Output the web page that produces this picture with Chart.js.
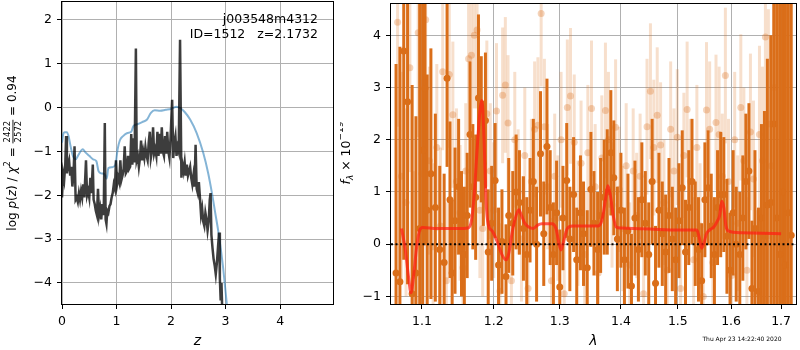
<!DOCTYPE html>
<html>
<head>
<meta charset="utf-8">
<script src="https://cdn.jsdelivr.net/npm/chart.js@4"></script>
<style>
    html, body { margin: 0; padding: 0; background: #fff; }
    #pz { position: absolute; left: 0; top: 0; }
    #spec { position: absolute; left: 340px; top: 0; }
</style>
</head>
<body>
<canvas id="pz" width="340" height="350"></canvas>
<canvas id="spec" width="460" height="350"></canvas>
<script>
(function () {
    'use strict';

    // --- left panel: log p(z) ---
    const Z_TICKS = [0, 1, 2, 3, 4];
    const LOGP_TICKS = [-4, -3, -2, -1, 0, 1, 2];

    const Z_PZ = [
        0.00, 0.02, 0.04, 0.06, 0.075, 0.09, 0.11, 0.13, 0.15, 0.17,
        0.19, 0.21, 0.23, 0.25, 0.27, 0.29, 0.31, 0.33, 0.35, 0.37,
        0.39, 0.41, 0.44, 0.46, 0.48, 0.50, 0.52, 0.54, 0.565, 0.58,
        0.60, 0.62, 0.64, 0.66, 0.68, 0.70, 0.72, 0.74, 0.765, 0.785,
        0.80, 0.815, 0.83, 0.85, 0.87, 0.89, 0.91, 0.93, 0.95, 0.97,
        0.99, 1.01, 1.03, 1.05, 1.07, 1.09, 1.11, 1.13, 1.15, 1.17,
        1.19, 1.21, 1.23, 1.25, 1.27, 1.29, 1.31, 1.33, 1.355, 1.37,
        1.39, 1.41, 1.43, 1.45, 1.47, 1.49, 1.51, 1.53, 1.55, 1.57,
        1.59, 1.61, 1.63, 1.65, 1.67, 1.69, 1.71, 1.73, 1.75, 1.77,
        1.79, 1.81, 1.83, 1.85, 1.87, 1.89, 1.91, 1.93, 1.95, 1.97,
        1.99, 2.02, 2.04, 2.06, 2.08, 2.10, 2.12, 2.14, 2.165, 2.19,
        2.21, 2.23, 2.25, 2.27, 2.29, 2.31, 2.33, 2.35, 2.37, 2.39,
        2.41, 2.43, 2.45, 2.47, 2.49, 2.51, 2.53, 2.55, 2.57, 2.59,
        2.61, 2.63, 2.65, 2.67, 2.69, 2.71, 2.725, 2.74, 2.76, 2.78,
        2.80, 2.82, 2.84, 2.86, 2.88, 2.895, 2.91, 2.925, 2.94
    ];
    const LOGP_PZ = [
        -2.05, -1.50, -1.65, -1.30, -0.65, -1.50, -1.30, -1.20, -1.55, -1.35,
        -1.80, -1.55, -0.88, -2.10, -2.05, -2.15, -1.95, -2.10, -1.90, -2.05,
        -1.75, -2.05, -1.20, -2.00, -1.90, -2.05, -1.60, -1.95, -1.30, -2.10,
        -2.20, -2.35, -2.45, -1.85, -2.45, -2.30, -2.55, -2.20, -2.45, -0.35,
        -2.55, -2.65, -2.35, -2.40, -2.25, -2.20, -2.05, -1.95, -1.75, -1.85,
        -1.20, -1.75, -1.60, -1.70, -1.20, -1.65, -1.55, -1.40, -0.88, -1.50,
        -1.45, -1.10, -1.40, -1.35, -0.60, -1.30, -0.70, -1.25, 1.35, -1.20,
        -1.10, -1.35, -1.15, -0.75, -1.20, -1.00, -1.15, -0.90, -1.10, -1.20,
        -0.80, -0.55, -1.15, -1.00, -0.45, -1.05, -0.95, -1.10, -0.55, -1.10,
        -0.60, -1.05, -0.45, -1.00, -1.10, -0.65, -1.05, -0.55, -1.00, -1.15,
        -0.70, 0.18, -1.15, -0.80, -0.65, -1.10, -0.90, -1.00, 1.55, -1.60,
        -1.30, -1.45, -1.25, -1.55, -1.30, -1.55, -1.45, -1.35, -1.60, -1.75,
        -1.55, -1.80, -0.85, -1.85, -1.95, -1.70, -2.05, -2.45, -2.30, -2.60,
        -2.70, -2.40, -2.55, -2.80, -2.60, -2.10, -1.95, -2.90, -3.20, -3.45,
        -3.60, -3.80, -3.55, -3.20, -2.85, -3.90, -4.40, -4.00, -4.70
    ];

    const Z_MODEL = [
        0.00, 0.02, 0.05, 0.09, 0.12, 0.16, 0.20, 0.25, 0.30, 0.35,
        0.38, 0.43, 0.50, 0.57, 0.63, 0.67, 0.72, 0.78, 0.82, 0.85,
        0.92, 0.98, 1.02, 1.06, 1.12, 1.20, 1.27, 1.31, 1.38, 1.47,
        1.56, 1.63, 1.70, 1.80, 1.90, 2.00, 2.10, 2.18, 2.25, 2.35,
        2.47, 2.59, 2.68, 2.75, 2.81, 2.87, 2.95, 3.00, 3.04
    ];
    const LOGP_MODEL = [
        -0.80, -0.62, -0.56, -0.56, -0.65, -0.90, -1.10, -1.18, -1.08, -0.98,
        -0.95, -1.02, -1.10, -1.18, -1.22, -1.45, -1.50, -1.52, -1.62, -1.38,
        -1.36, -1.30, -0.95, -0.75, -0.65, -0.58, -0.55, -0.42, -0.38, -0.33,
        -0.27, -0.12, -0.06, -0.07, -0.05, -0.03, 0.02, -0.02, -0.10, -0.27,
        -0.58, -1.03, -1.49, -1.95, -2.40, -2.85, -3.60, -4.20, -4.70
    ];

    // --- right panel: spectrum ---
    const LAM_TICKS = [1.1, 1.2, 1.3, 1.4, 1.5, 1.6, 1.7];
    const FLUX_TICKS = [-1, 0, 1, 2, 3, 4];

    const LAM_A = [
        1.066, 1.071, 1.076, 1.081, 1.087, 1.092, 1.097, 1.101, 1.104, 1.107,
        1.112, 1.118, 1.124, 1.130, 1.134, 1.138, 1.141, 1.145, 1.150, 1.154,
        1.158, 1.162, 1.166, 1.170, 1.174, 1.178, 1.182, 1.185, 1.188, 1.192,
        1.197, 1.202, 1.207, 1.212, 1.218, 1.222, 1.228, 1.233, 1.238, 1.244,
        1.249, 1.254, 1.259, 1.264, 1.270, 1.275, 1.280, 1.285, 1.290, 1.295,
        1.300, 1.305, 1.311, 1.316, 1.322, 1.327, 1.333, 1.338, 1.344, 1.350,
        1.355, 1.361, 1.366, 1.372, 1.377, 1.383, 1.388, 1.394, 1.400, 1.406,
        1.412, 1.418, 1.424, 1.430, 1.436, 1.442, 1.448, 1.454, 1.460, 1.466,
        1.472, 1.478, 1.484, 1.490, 1.496, 1.502, 1.508, 1.514, 1.520, 1.526,
        1.532, 1.538, 1.544, 1.550, 1.556, 1.562, 1.568, 1.574, 1.580, 1.586,
        1.592, 1.598, 1.604, 1.610, 1.617, 1.623, 1.629, 1.635, 1.641, 1.647,
        1.654, 1.660, 1.666, 1.672, 1.679, 1.685, 1.691, 1.697, 1.703, 1.709,
        1.715, 1.721
    ];
    const FLUX_A = [
        -0.55, -0.72, 3.70, 2.73, -0.95, -0.55, 0.30, 1.80, 2.98, 0.65,
        1.35, 0.70, -0.10, -0.35, 3.18, 0.85, -0.55, 0.45, 1.10, 0.20,
        -0.20, 0.55, 2.10, 1.10, 0.90, 2.80, 2.20, 1.55, 2.37, -0.15,
        0.40, 1.22, -0.40, 0.05, -0.62, 0.55, 0.40, 1.00, 0.80, 0.30,
        -0.20, 0.65, 1.20, 0.00, 1.73, 0.20, 1.87, 0.70, -0.20, 0.60,
        -0.82, 0.50, 1.22, 0.10, 0.95, -0.30, 0.60, 0.20, -0.45, 1.05,
        0.40, -0.10, 0.55, 0.90, 1.00, 1.75, 1.27, 0.10, 0.65, -0.30,
        0.25, -0.80, 0.50, -0.10, 0.85, 0.40, -0.20, 1.20, -0.75, 0.65,
        0.20, -0.15, 0.55, 0.10, -0.30, 0.45, 1.08, -0.15, 0.70, 1.20,
        0.20, -0.10, -0.70, 0.85, 1.08, 0.35, -0.20, 0.70, 0.95, 0.95,
        0.15, -0.50, 0.60, 0.00, -0.20, 0.50, 1.20, 1.40, -0.85, 0.30,
        -0.90, 0.50, 0.15, 0.75, 0.80, 2.30, 0.50, -0.20, 1.00, -0.40,
        0.60, 0.17
    ];
    const ERR_A = [
        4.0, 4.5, 4.0, 3.5, 4.0, 3.0, 4.5, 4.0, 3.0, 2.6,
        2.4, 1.8, 1.6, 1.7, 1.7, 1.5, 1.4, 1.4, 1.3, 1.2,
        1.3, 1.2, 1.4, 1.2, 1.2, 1.6, 1.4, 1.2, 1.3, 1.2,
        1.1, 1.1, 1.1, 1.0, 1.0, 1.1, 1.0, 1.1, 1.0, 1.0,
        1.1, 1.0, 1.2, 1.1, 1.2, 1.0, 1.3, 1.1, 1.0, 1.0,
        1.1, 1.0, 1.1, 1.0, 1.1, 1.0, 1.1, 1.0, 1.1, 1.1,
        1.0, 1.1, 1.1, 1.1, 1.2, 1.2, 1.1, 1.0, 1.1, 1.0,
        1.1, 1.0, 1.1, 1.0, 1.1, 1.0, 1.0, 1.2, 1.1, 1.1,
        1.0, 1.1, 1.1, 1.0, 1.0, 1.1, 1.1, 1.0, 1.1, 1.2,
        1.0, 1.0, 1.1, 1.1, 1.1, 1.0, 1.1, 1.1, 1.2, 1.1,
        1.1, 1.1, 1.2, 1.1, 1.2, 1.2, 1.3, 1.3, 1.3, 1.5,
        1.6, 1.8, 2.4, 2.8, 3.2, 3.5, 4.5, 5.0, 5.0, 5.5,
        5.0, 6.0
    ];

    const LAM_B = [
        1.068, 1.073, 1.079, 1.084, 1.090, 1.095, 1.100, 1.105, 1.110, 1.115,
        1.120, 1.125, 1.128, 1.133, 1.137, 1.142, 1.147, 1.152, 1.156, 1.160,
        1.164, 1.168, 1.172, 1.176, 1.180, 1.184, 1.190, 1.195, 1.200, 1.204,
        1.209, 1.213, 1.217, 1.221, 1.226, 1.231, 1.236, 1.241, 1.246, 1.251,
        1.256, 1.261, 1.266, 1.271, 1.276, 1.281, 1.287, 1.292, 1.297, 1.302,
        1.307, 1.312, 1.317, 1.323, 1.329, 1.334, 1.340, 1.345, 1.351, 1.357,
        1.362, 1.368, 1.374, 1.379, 1.385, 1.391, 1.397, 1.403, 1.409, 1.415,
        1.421, 1.427, 1.433, 1.439, 1.445, 1.451, 1.457, 1.463, 1.469, 1.475,
        1.481, 1.487, 1.493, 1.499, 1.505, 1.511, 1.517, 1.523, 1.529, 1.535,
        1.541, 1.547, 1.553, 1.559, 1.565, 1.571, 1.577, 1.583, 1.589, 1.595,
        1.601, 1.607, 1.613, 1.619, 1.625, 1.631, 1.638, 1.644, 1.650, 1.656,
        1.662, 1.668, 1.674, 1.680, 1.686
    ];
    const FLUX_B = [
        4.25, 1.30, 0.80, 3.38, -0.60, 4.05, 1.35, 4.30, 1.60, -0.05,
        1.85, 0.35, 3.30, -0.70, 3.25, 2.48, 1.20, 0.60, -0.45, 1.40,
        3.55, 3.62, 4.00, 4.10, 0.65, 0.30, 2.50, 1.40, 0.65, 2.55,
        -0.90, 2.85, 3.05, 2.32, -0.70, 2.00, 1.00, 0.10, 1.70, -0.85,
        1.20, 2.20, 2.28, 4.42, 2.25, 1.10, -0.70, 1.30, 0.50, 2.00,
        -0.95, 2.62, 2.84, 1.95, 0.40, 1.55, -0.20, 1.75, 2.60, 1.10,
        -0.55, 1.65, 2.56, 2.00, 0.75, 2.24, 1.05, 0.30, 1.50, -0.40,
        1.40, 0.55, 1.30, -0.95, 2.25, 2.93, 1.85, 2.47, 1.90, 0.80,
        -0.50, 2.20, 1.40, 2.05, -0.85, 1.70, 2.58, 1.20, -0.30, 1.85,
        0.35, -1.00, 2.57, 2.20, -0.35, 2.33, 2.10, 1.30, 3.23, 1.20,
        -0.60, 2.00, 0.40, 2.62, 1.60, -0.50, 2.15, 1.25, -0.95, 2.10,
        1.60, 3.97, 2.30, 1.50, 3.00
    ];
    const ERR_B = [
        2.0, 2.0, 1.8, 2.0, 2.0, 2.0, 1.8, 1.8, 1.8, 1.6,
        1.6, 1.5, 1.5, 1.5, 1.4, 1.4, 1.4, 1.3, 1.4, 1.3,
        1.4, 1.4, 1.4, 1.5, 1.3, 1.3, 1.4, 1.3, 1.3, 1.3,
        1.3, 1.3, 1.3, 1.3, 1.2, 1.3, 1.2, 1.2, 1.3, 1.2,
        1.2, 1.3, 1.3, 1.4, 1.3, 1.2, 1.2, 1.2, 1.2, 1.3,
        1.2, 1.3, 1.3, 1.3, 1.2, 1.2, 1.2, 1.3, 1.3, 1.2,
        1.2, 1.2, 1.3, 1.3, 1.2, 1.3, 1.2, 1.2, 1.2, 1.2,
        1.2, 1.2, 1.2, 1.2, 1.3, 1.3, 1.3, 1.3, 1.2, 1.2,
        1.2, 1.3, 1.2, 1.3, 1.2, 1.2, 1.3, 1.2, 1.2, 1.2,
        1.2, 1.2, 1.3, 1.3, 1.2, 1.3, 1.3, 1.2, 1.3, 1.2,
        1.2, 1.3, 1.3, 1.4, 1.4, 1.4, 1.5, 1.5, 1.6, 1.7,
        1.8, 2.0, 2.2, 2.5, 3.0
    ];

    const LAM_FIT = [
        1.073, 1.078, 1.082, 1.0855, 1.089, 1.093, 1.097, 1.101, 1.120, 1.150,
        1.163, 1.168, 1.172, 1.176, 1.1805, 1.183, 1.186, 1.189, 1.192, 1.198,
        1.205, 1.212, 1.218, 1.222, 1.227, 1.233, 1.237, 1.241, 1.246, 1.252,
        1.259, 1.265, 1.272, 1.288, 1.294, 1.299, 1.302, 1.306, 1.312, 1.320,
        1.340, 1.362, 1.368, 1.374, 1.378, 1.382, 1.387, 1.392, 1.400, 1.450,
        1.500, 1.535, 1.540, 1.544, 1.549, 1.553, 1.560, 1.567, 1.574, 1.578,
        1.582, 1.586, 1.590, 1.595, 1.620, 1.660, 1.700
    ];
    const FLUX_FIT = [
        0.30, -0.10, -0.60, -0.93, -0.60, -0.05, 0.27, 0.32, 0.30, 0.30,
        0.31, 0.45, 0.95, 1.80, 2.60, 2.75, 2.00, 0.80, 0.38, 0.25,
        0.05, -0.20, -0.30, -0.18, 0.22, 0.55, 0.66, 0.55, 0.40, 0.33,
        0.30, 0.36, 0.39, 0.39, 0.30, 0.00, -0.11, 0.05, 0.30, 0.35,
        0.35, 0.35, 0.45, 0.85, 1.12, 0.95, 0.55, 0.33, 0.31, 0.29,
        0.27, 0.27, 0.10, -0.08, 0.05, 0.20, 0.28, 0.33, 0.45, 0.55,
        0.82, 0.70, 0.35, 0.25, 0.22, 0.21, 0.20
    ];

    const DARK = 'rgb(218, 110, 25)';
    const FONT = '"DejaVu Sans", sans-serif';

    Chart.defaults.font.family = FONT;
    Chart.defaults.font.size = 12.5;
    Chart.defaults.color = '#000';
    Chart.defaults.animation = false;
    Chart.defaults.plugins.legend.display = false;
    Chart.defaults.plugins.tooltip.enabled = false;

    function pairs(xs, ys) {
        return xs.map((x, i) => ({ x: x, y: ys[i] }));
    }
    function fmt(v) {
        return String(v).replace('-', '\u2212');
    }
    function fixTicks(list) {
        return function (scale) { scale.ticks = list.map(v => ({ value: v })); };
    }
    function grid() {
        return { color: '#b0b0b0', lineWidth: 1, tickLength: 5, tickColor: '#000', tickWidth: 1 };
    }
    // fixed axis size, and no extra room for half tick labels at the ends
    function fitTo(w, h) {
        return function (s) {
            if (w) s.width = w;
            if (h) s.height = h;
            s.paddingTop = 0; s.paddingBottom = 0;
            s.paddingLeft = 0; s.paddingRight = 0;
        };
    }

    // box round the plot area, like matplotlib spines
    const frame = {
        id: 'frame',
        afterDraw(chart) {
            const a = chart.chartArea, ctx = chart.ctx;
            ctx.save();
            ctx.strokeStyle = '#000';
            ctx.lineWidth = 1;
            ctx.strokeRect(a.left - 0.5, a.top - 0.5, a.right - a.left + 1, a.bottom - a.top + 1);
            ctx.restore();
        }
    };

    // vertical error bars, drawn just before the dataset's own points
    const errorBars = {
        id: 'errorBars',
        beforeDatasetDraw(chart, args) {
            const ds = chart.data.datasets[args.index];
            if (!ds.err) return;
            const ctx = chart.ctx, a = chart.chartArea, ys = chart.scales.y;
            ctx.save();
            ctx.beginPath();
            ctx.rect(a.left, a.top, a.right - a.left, a.bottom - a.top);
            ctx.clip();
            ctx.strokeStyle = ds.errColor;
            ctx.lineWidth = ds.errWidth;
            args.meta.data.forEach((pt, i) => {
                const v = ds.data[i].y, e = ds.err[i];
                ctx.beginPath();
                ctx.moveTo(pt.x, ys.getPixelForValue(v - e));
                ctx.lineTo(pt.x, ys.getPixelForValue(v + e));
                ctx.stroke();
            });
            ctx.restore();
        }
    };

    // rotated label made of pieces (italics, sub/superscripts, a fraction)
    function drawRotated(ctx, parts, cx, cy) {
        let w = 0;
        parts.forEach(p => {
            ctx.font = p.font;
            p.w = p.frac
                ? Math.max(ctx.measureText(p.frac[0]).width, ctx.measureText(p.frac[1]).width) + 2
                : ctx.measureText(p.text).width;
            w += p.w;
        });
        ctx.save();
        ctx.translate(cx, cy);
        ctx.rotate(-Math.PI / 2);
        ctx.fillStyle = '#000';
        ctx.textBaseline = 'middle';
        let x = -w / 2;
        parts.forEach(p => {
            ctx.font = p.font;
            if (p.frac) {
                ctx.textAlign = 'center';
                ctx.fillText(p.frac[0], x + p.w / 2, -5.5);
                ctx.fillText(p.frac[1], x + p.w / 2, 5.5);
                ctx.fillRect(x, -0.5, p.w, 0.9);
            } else {
                ctx.textAlign = 'left';
                ctx.fillText(p.text, x, p.dy || 0);
            }
            x += p.w;
        });
        ctx.restore();
    }

    const pzLabels = {
        id: 'pzLabels',
        afterDraw(chart) {
            const ctx = chart.ctx;
            const n = '12px ' + FONT, it = 'italic 12px ' + FONT, sm = '8.5px ' + FONT;
            drawRotated(ctx, [
                { text: 'log ', font: n },
                { text: 'p', font: it },
                { text: '(', font: n },
                { text: 'z', font: it },
                { text: ') / ', font: n },
                { text: '\u03c7', font: it },
                { text: '2', font: sm, dy: -5 },
                { text: ' = ', font: n },
                { frac: ['2422', '2572'], font: sm },
                { text: ' = 0.94', font: n }
            ], 13, 153);

            ctx.save();
            ctx.font = '12.5px ' + FONT;
            ctx.fillStyle = '#000';
            ctx.textAlign = 'right';
            ctx.textBaseline = 'middle';
            ctx.fillText('j003548m4312', 318, 20);
            ctx.fillText('ID=1512   z=2.1732', 318, 35);
            ctx.restore();
        }
    };

    const specLabels = {
        id: 'specLabels',
        afterDraw(chart) {
            const ctx = chart.ctx;
            const n = '12.5px ' + FONT, it = 'italic 12.5px ' + FONT;
            drawRotated(ctx, [
                { text: 'f', font: it },
                { text: '\u03bb', font: 'italic 9px ' + FONT, dy: 3.5 },
                { text: ' \u00d7 10', font: n },
                { text: '\u221219', font: '9px ' + FONT, dy: -6 }
            ], 7, 153);

            ctx.save();
            ctx.font = '6px ' + FONT;
            ctx.fillStyle = '#000';
            ctx.textAlign = 'center';
            ctx.textBaseline = 'middle';
            ctx.fillText('Thu Apr 23 14:22:40 2020', 402, 339);
            ctx.restore();
        }
    };

    new Chart(document.getElementById('pz'), {
        type: 'line',
        data: {
            datasets: [{
                data: pairs(Z_MODEL, LOGP_MODEL),
                borderColor: 'rgba(31, 119, 180, 0.55)',
                borderWidth: 2,
                pointRadius: 0,
                cubicInterpolationMode: 'monotone',
                order: 2
            }, {
                data: pairs(Z_PZ, LOGP_PZ),
                borderColor: 'rgba(0, 0, 0, 0.76)',
                borderWidth: 2.5,
                pointRadius: 0,
                tension: 0,
                order: 1
            }]
        },
        options: {
            responsive: false,
            layout: { padding: { top: 2, right: 7, bottom: 0, left: 0 } },
            scales: {
                x: {
                    type: 'linear', min: 0, max: 4.97,
                    afterBuildTicks: fixTicks(Z_TICKS),
                    afterFit: fitTo(0, 46),
                    grid: grid(),
                    border: { display: false },
                    ticks: { padding: 5, maxRotation: 0, autoSkip: false, callback: fmt },
                    title: { display: true, text: 'z', font: { size: 14, style: 'italic' }, padding: 0 }
                },
                y: {
                    type: 'linear', min: -4.48, max: 2.41,
                    afterBuildTicks: fixTicks(LOGP_TICKS),
                    afterFit: fitTo(62, 0),
                    grid: grid(),
                    border: { display: false },
                    ticks: { padding: 5, autoSkip: false, callback: fmt }
                }
            }
        },
        plugins: [frame, pzLabels]
    });

    new Chart(document.getElementById('spec'), {
        type: 'scatter',
        data: {
            datasets: [{
                type: 'line',
                data: pairs(LAM_FIT, FLUX_FIT),
                borderColor: 'rgba(255, 30, 20, 0.72)',
                borderWidth: 3,
                pointRadius: 0,
                cubicInterpolationMode: 'monotone',
                order: 0
            }, {
                type: 'line',
                data: [{ x: 1.0595, y: 0 }, { x: 1.731, y: 0 }],
                borderColor: '#000',
                borderWidth: 2,
                borderDash: [2, 2.5],
                pointRadius: 0,
                order: 1
            }, {
                data: pairs(LAM_A, FLUX_A),
                err: ERR_A,
                errColor: DARK,
                errWidth: 3,
                backgroundColor: DARK,
                borderWidth: 0,
                pointRadius: 3.5,
                order: 2
            }, {
                data: pairs(LAM_B, FLUX_B),
                err: ERR_B,
                errColor: 'rgba(218, 110, 25, 0.22)',
                errWidth: 3,
                backgroundColor: 'rgba(218, 110, 25, 0.3)',
                borderWidth: 0,
                pointRadius: 3.5,
                order: 3
            }]
        },
        options: {
            responsive: false,
            layout: { padding: { top: 2, right: 1, bottom: 0, left: 0 } },
            scales: {
                x: {
                    type: 'logarithmic', min: 1.0595, max: 1.731,
                    afterBuildTicks: fixTicks(LAM_TICKS),
                    afterFit: fitTo(0, 46),
                    grid: grid(),
                    border: { display: false },
                    ticks: { padding: 5, maxRotation: 0, autoSkip: false, callback: v => v.toFixed(1) },
                    title: { display: true, text: '\u03bb', font: { size: 14, style: 'italic' }, padding: 0 }
                },
                y: {
                    type: 'linear', min: -1.146, max: 4.6,
                    afterBuildTicks: fixTicks(FLUX_TICKS),
                    afterFit: fitTo(51, 0),
                    grid: grid(),
                    border: { display: false },
                    ticks: { padding: 5, autoSkip: false, callback: fmt }
                }
            }
        },
        plugins: [frame, errorBars, specLabels]
    });
})();
</script>
</body>
</html>
